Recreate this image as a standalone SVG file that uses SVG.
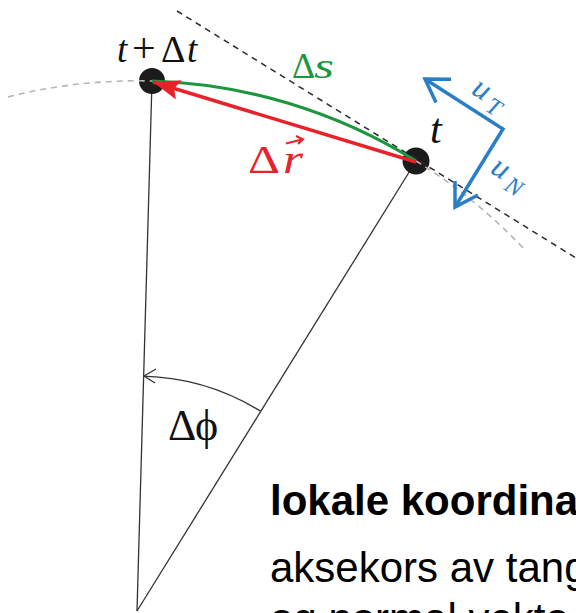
<svg xmlns="http://www.w3.org/2000/svg" width="576" height="613" viewBox="0 0 576 613">
<style>
.serif{font-family:"Liberation Serif","DejaVu Serif",serif}
.it{font-style:italic}
.sans{font-family:"Liberation Sans",Arial,sans-serif;font-size:42px;fill:#000}
.thin{fill:none;stroke:#333;stroke-width:1.3}
.gdash{fill:none;stroke:#b4b4b4;stroke-width:1.6;stroke-dasharray:6 5}
.kdash{fill:none;stroke:#2a2a2a;stroke-width:1.5;stroke-dasharray:6 5}
.blue{fill:none;stroke:#2a7ec6;stroke-width:3.5;stroke-linejoin:miter;stroke-linecap:butt}
.dot{fill:#1c1a1a}
</style>
<defs>
<marker id="redhead" markerUnits="userSpaceOnUse" markerWidth="30" markerHeight="20" refX="27" refY="10" orient="auto">
<path d="M0,0 L27,10 L0,20 L5,10 z" fill="#e8222a"/>
</marker>
</defs>

<g id="connectors">
<line class="thin" x1="137" y1="611" x2="152" y2="81"/>
<line class="thin" x1="137" y1="611" x2="416" y2="161"/>
<path class="thin" d="M260.8,411.3 A235 235 0 0 0 143.6,376.1"/>
<path class="thin" d="M156,369 L144,376 L155,383"/>
</g>

<g id="pointA"><circle class="dot" cx="152" cy="81" r="13"/></g>
<g id="pointB"><circle class="dot" cx="416" cy="161" r="13.5"/></g>

<g id="trajectory">
<path class="gdash" d="M8,96.9 A530 530 0 0 1 152,81"/>
<path class="gdash" d="M416,161 A530 530 0 0 1 525,250"/>
<path class="kdash" d="M177,11 L576,258"/>
</g>

<g id="ds-arc">
<path d="M416,161 A530 530 0 0 0 152,81" fill="none" stroke="#1e9640" stroke-width="3"/>
</g>
<g id="dr-arrow">
<path d="M416,162 L153,82" fill="none" stroke="#e8222a" stroke-width="3.5" marker-end="url(#redhead)"/>
</g>

<g id="axes">
<path class="blue" d="M425,79 L503,129 L455,207"/>
<path class="blue" d="M451,79.3 L425,79 L436,102.5"/>
<path class="blue" d="M455,181 L455,207 L478,195"/>
<text class="serif it" transform="translate(470,93) rotate(32)" font-size="32" fill="#2a7ec6">u<tspan font-size="24" dx="5" dy="7">T</tspan></text>
<text class="serif it" transform="translate(489,172) rotate(32)" font-size="32" fill="#2a7ec6">u<tspan font-size="24" dx="5" dy="7">N</tspan></text>
</g>

<g id="labels">
<text class="serif it" x="117" y="62" font-size="37" fill="#111">t</text>
<text class="serif" x="132" y="62" font-size="42" fill="#111">+</text>
<text class="serif" x="161" y="62" font-size="38" fill="#111">Δ</text>
<text class="serif it" x="187" y="62" font-size="37" fill="#111">t</text>

<text class="serif" x="292" y="78" font-size="36" fill="#1e9640">Δ</text>
<text class="serif it" x="314" y="78" font-size="36" fill="#1e9640" textLength="20" lengthAdjust="spacingAndGlyphs">s</text>

<text class="serif" x="248" y="173" font-size="40" fill="#e8222a" textLength="32" lengthAdjust="spacingAndGlyphs">Δ</text>
<text class="serif it" x="283" y="173" font-size="40" fill="#e8222a" textLength="20" lengthAdjust="spacingAndGlyphs">r</text>
<path d="M286,143.5 L302,139.5 M296,136 L303,139.3 L298,144" fill="none" stroke="#e8222a" stroke-width="2"/>

<text class="serif it" x="430" y="143" font-size="42" fill="#111">t</text>

<text class="serif" x="168" y="440" font-size="44" fill="#111">Δ</text>
<text class="serif" x="195" y="440" font-size="44" fill="#111">ϕ</text>
</g>

<g id="caption">
<text class="sans" x="270" y="515" font-weight="bold">lokale koordina</text>
<text class="sans" x="270" y="582">aksekors av tang</text>
<text class="sans" x="270" y="633">og normal vekto</text>
</g>
</svg>
